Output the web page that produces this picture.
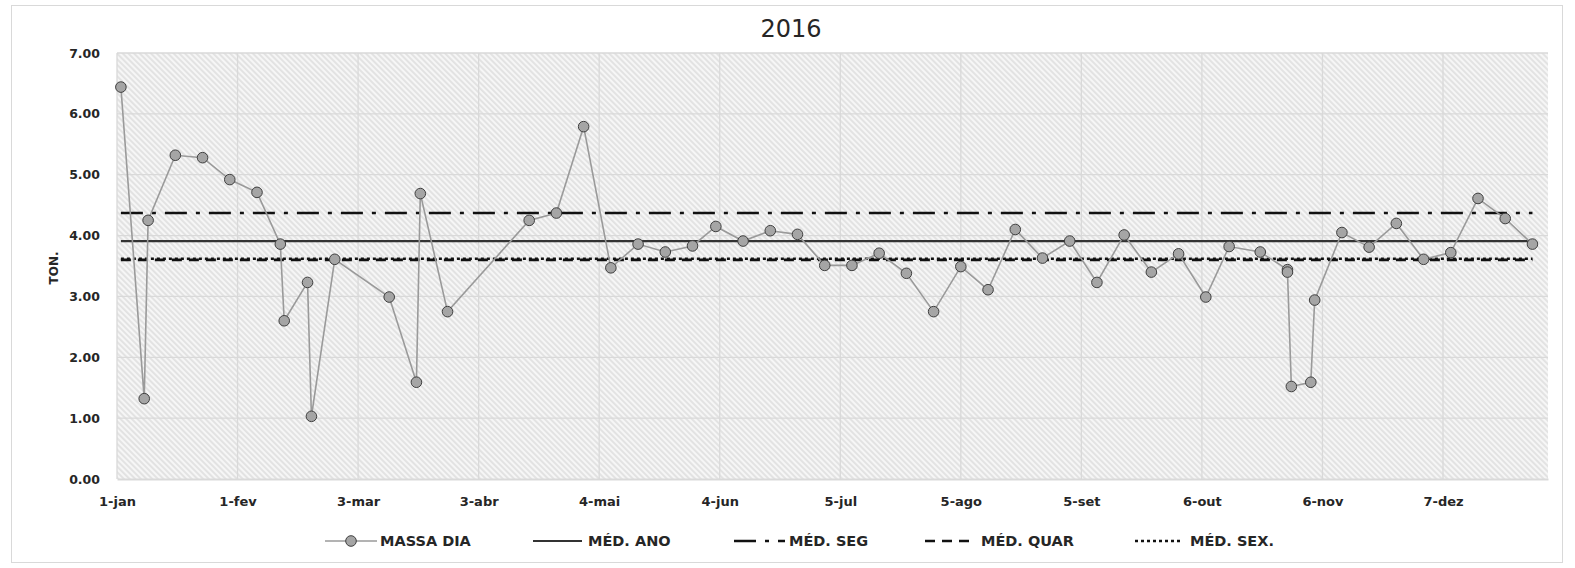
<!DOCTYPE html>
<html>
<head>
<meta charset="utf-8">
<script src="https://cdn.jsdelivr.net/npm/d3@7"></script>
<style>
  body { margin: 0; background: #fff; }
  text { font-family: "DejaVu Sans", sans-serif; fill: #262626; }
</style>
</head>
<body>
<div id="chart"></div>
<script>
// daily mass (ton.) collected in 2016
const massaDates = [
  "2016-01-02", "2016-01-08", "2016-01-09", "2016-01-16", "2016-01-23", "2016-01-30",
  "2016-02-06", "2016-02-12", "2016-02-13", "2016-02-19", "2016-02-20", "2016-02-26",
  "2016-03-11", "2016-03-18", "2016-03-19", "2016-03-26", "2016-04-16", "2016-04-23",
  "2016-04-30", "2016-05-07", "2016-05-14", "2016-05-21", "2016-05-28", "2016-06-03",
  "2016-06-10", "2016-06-17", "2016-06-24", "2016-07-01", "2016-07-08", "2016-07-15",
  "2016-07-22", "2016-07-29", "2016-08-05", "2016-08-12", "2016-08-19", "2016-08-26",
  "2016-09-02", "2016-09-09", "2016-09-16", "2016-09-23", "2016-09-30", "2016-10-07",
  "2016-10-13", "2016-10-21", "2016-10-28", "2016-10-28", "2016-10-29", "2016-11-03",
  "2016-11-04", "2016-11-11", "2016-11-18", "2016-11-25", "2016-12-02", "2016-12-09",
  "2016-12-16", "2016-12-23", "2016-12-30"
];
const massaValues = [
  6.44, 1.32, 4.25, 5.32, 5.28, 4.92,
  4.71, 3.86, 2.60, 3.23, 1.03, 3.61,
  2.99, 1.59, 4.69, 2.75, 4.25, 4.37,
  5.79, 3.47, 3.86, 3.73, 3.83, 4.15,
  3.91, 4.08, 4.02, 3.51, 3.51, 3.71,
  3.38, 2.75, 3.49, 3.11, 4.10, 3.63,
  3.91, 3.23, 4.01, 3.40, 3.70, 2.99,
  3.82, 3.73, 3.44, 3.40, 1.52, 1.59,
  2.94, 4.05, 3.81, 4.20, 3.61, 3.72,
  4.61, 4.28, 3.86
];

// reference averages
const avgNames = ["MÉD. ANO", "MÉD. SEG", "MÉD. QUAR", "MÉD. SEX."];
const avgValues = [3.91, 4.37, 3.60, 3.62];

// x axis: Excel date axis, one major unit = 31 days
const tickDates = [
  "2016-01-01", "2016-02-01", "2016-03-03", "2016-04-03", "2016-05-04", "2016-06-04",
  "2016-07-05", "2016-08-05", "2016-09-05", "2016-10-06", "2016-11-06", "2016-12-07"
];
const tickLabels = [
  "1-jan", "1-fev", "3-mar", "3-abr", "4-mai", "4-jun",
  "5-jul", "5-ago", "5-set", "6-out", "6-nov", "7-dez"
];
const xDomain = ["2016-01-01", "2017-01-03"];
const yTicks = [0, 1, 2, 3, 4, 5, 6, 7];

class MassaChart {
  constructor(_config) {
    this.config = {
      parentElement: _config.parentElement || "#chart",
      title: _config.title || "2016",
      yAxisLabel: _config.yAxisLabel || "TON.",
      containerWidth: _config.containerWidth || 1575,
      containerHeight: _config.containerHeight || 568,
      plot: _config.plot || { left: 117, right: 1548, top: 53, bottom: 479 },
    };
    this.init();
  }
  init() {
    let vis = this;
    const parse = d3.utcParse("%Y-%m-%d");
    vis.data = massaDates.map((d, i) => ({ date: parse(d), value: massaValues[i] }));
    vis.ticks = tickDates.map(parse);

    vis.svg = d3
      .select(vis.config.parentElement)
      .append("svg")
      .attr("width", vis.config.containerWidth)
      .attr("height", vis.config.containerHeight);

    // diagonal hatch for the plot area
    const pat = vis.svg
      .append("defs")
      .append("pattern")
      .attr("id", "hatch")
      .attr("patternUnits", "userSpaceOnUse")
      .attr("width", 4)
      .attr("height", 4)
      .attr("patternTransform", "rotate(-45)");
    pat.append("rect").attr("width", 4).attr("height", 4).attr("fill", "#f6f6f6");
    pat
      .append("line")
      .attr("x1", 1).attr("y1", 0).attr("x2", 1).attr("y2", 4)
      .attr("stroke", "#d6d6d6")
      .attr("stroke-width", 1.2);

    vis.x = d3
      .scaleUtc()
      .domain(xDomain.map(parse))
      .range([vis.config.plot.left, vis.config.plot.right]);
    vis.y = d3
      .scaleLinear()
      .domain([0, 7])
      .range([vis.config.plot.bottom, vis.config.plot.top]);

    this.update();
  }
  update() {
    let vis = this;
    const p = vis.config.plot;

    // chart border
    vis.svg
      .append("rect")
      .attr("x", 11.5)
      .attr("y", 5.5)
      .attr("width", 1551)
      .attr("height", 557)
      .attr("fill", "#fff")
      .attr("stroke", "#d9d9d9");

    vis.svg
      .append("rect")
      .attr("x", p.left)
      .attr("y", p.top)
      .attr("width", p.right - p.left)
      .attr("height", p.bottom - p.top)
      .attr("fill", "url(#hatch)");

    // gridlines
    vis.svg
      .append("g")
      .selectAll("line")
      .data(yTicks.slice(1))
      .join("line")
      .attr("x1", p.left)
      .attr("x2", p.right)
      .attr("y1", (d) => vis.y(d))
      .attr("y2", (d) => vis.y(d))
      .attr("stroke", "#d9d9d9")
      .attr("stroke-width", 1.3);

    vis.svg
      .append("g")
      .selectAll("line")
      .data(vis.ticks)
      .join("line")
      .attr("x1", (d) => vis.x(d))
      .attr("x2", (d) => vis.x(d))
      .attr("y1", p.top)
      .attr("y2", p.bottom)
      .attr("stroke", "#d9d9d9")
      .attr("stroke-width", 1.3);

    // x axis
    const xAxis = d3
      .axisBottom(vis.x)
      .tickValues(vis.ticks)
      .tickFormat((d, i) => tickLabels[i])
      .tickSize(0)
      .tickPadding(18);
    const gx = vis.svg
      .append("g")
      .attr("transform", `translate(0, ${p.bottom})`)
      .call(xAxis);
    gx.select(".domain").attr("stroke", "#d9d9d9").attr("stroke-width", 2);
    gx.selectAll("text")
      .attr("fill", "#262626")
      .style("font-size", "13px")
      .style("font-weight", "bold")
      .style("font-family", '"DejaVu Sans", sans-serif');

    // y axis
    const yAxis = d3
      .axisLeft(vis.y)
      .tickValues(yTicks)
      .tickFormat(d3.format(".2f"))
      .tickSize(0)
      .tickPadding(p.left - 100);
    const gy = vis.svg
      .append("g")
      .attr("transform", `translate(${p.left}, 0)`)
      .call(yAxis);
    gy.select(".domain").remove();
    gy.selectAll("text")
      .attr("fill", "#262626")
      .style("font-size", "12.5px")
      .style("font-weight", "bold")
      .style("font-family", '"DejaVu Sans", sans-serif');

    // average lines
    const avgStyles = [
      { dash: null, width: 2.2, color: "#333" },
      { dash: "22,9,4,9", width: 2.6, color: "#111" },
      { dash: "10,7", width: 2.6, color: "#111" },
      { dash: "3,3", width: 2.6, color: "#111" },
    ];
    const first = vis.data[0].date;
    const last = vis.data[vis.data.length - 1].date;
    avgValues.forEach((v, i) => {
      vis.svg
        .append("line")
        .attr("x1", vis.x(first))
        .attr("x2", vis.x(last))
        .attr("y1", vis.y(v))
        .attr("y2", vis.y(v))
        .attr("stroke", avgStyles[i].color)
        .attr("stroke-width", avgStyles[i].width)
        .attr("stroke-dasharray", avgStyles[i].dash);
    });

    // daily mass line + markers
    vis.svg
      .append("path")
      .datum(vis.data)
      .attr("fill", "none")
      .attr("stroke", "#9a9a9a")
      .attr("stroke-width", 1.6)
      .attr(
        "d",
        d3
          .line()
          .x((d) => vis.x(d.date))
          .y((d) => vis.y(d.value))
      );
    vis.svg
      .append("g")
      .selectAll("circle")
      .data(vis.data)
      .join("circle")
      .attr("cx", (d) => vis.x(d.date))
      .attr("cy", (d) => vis.y(d.value))
      .attr("r", 5.3)
      .attr("fill", "#a5a5a5")
      .attr("stroke", "#3f3f3f")
      .attr("stroke-width", 1);

    // title
    vis.svg
      .append("text")
      .attr("x", 791)
      .attr("y", 37)
      .attr("text-anchor", "middle")
      .style("font-size", "24px")
      .text(vis.config.title);

    // y axis label
    vis.svg
      .append("text")
      .attr("text-anchor", "middle")
      .attr("transform", "translate(58, 268) rotate(-90)")
      .style("font-size", "12px")
      .style("font-weight", "bold")
      .text(vis.config.yAxisLabel);

    // legend
    const ly = 541;
    const legend = vis.svg.append("g").style("font-size", "14.5px").style("font-weight", "bold");
    const items = [
      { name: "MASSA DIA", x0: 325, x1: 377, tx: 380 },
      { name: avgNames[0], x0: 533, x1: 582, tx: 588, s: avgStyles[0] },
      { name: avgNames[1], x0: 734, x1: 785, tx: 789, s: avgStyles[1] },
      { name: avgNames[2], x0: 925, x1: 976, tx: 981, s: avgStyles[2] },
      { name: avgNames[3], x0: 1135, x1: 1182, tx: 1190, s: avgStyles[3] },
    ];
    items.forEach((it, i) => {
      if (i === 0) {
        legend
          .append("line")
          .attr("x1", it.x0).attr("x2", it.x1)
          .attr("y1", ly).attr("y2", ly)
          .attr("stroke", "#9a9a9a")
          .attr("stroke-width", 1.6);
        legend
          .append("circle")
          .attr("cx", (it.x0 + it.x1) / 2)
          .attr("cy", ly)
          .attr("r", 5.3)
          .attr("fill", "#a5a5a5")
          .attr("stroke", "#3f3f3f");
      } else {
        legend
          .append("line")
          .attr("x1", it.x0).attr("x2", it.x1)
          .attr("y1", ly).attr("y2", ly)
          .attr("stroke", it.s.color)
          .attr("stroke-width", it.s.width)
          .attr("stroke-dasharray", it.s.dash);
      }
      legend
        .append("text")
        .attr("x", it.tx)
        .attr("y", ly)
        .attr("dy", "0.36em")
        .text(it.name);
    });
  }
}

new MassaChart({ parentElement: "#chart" });
</script>
</body>
</html>
